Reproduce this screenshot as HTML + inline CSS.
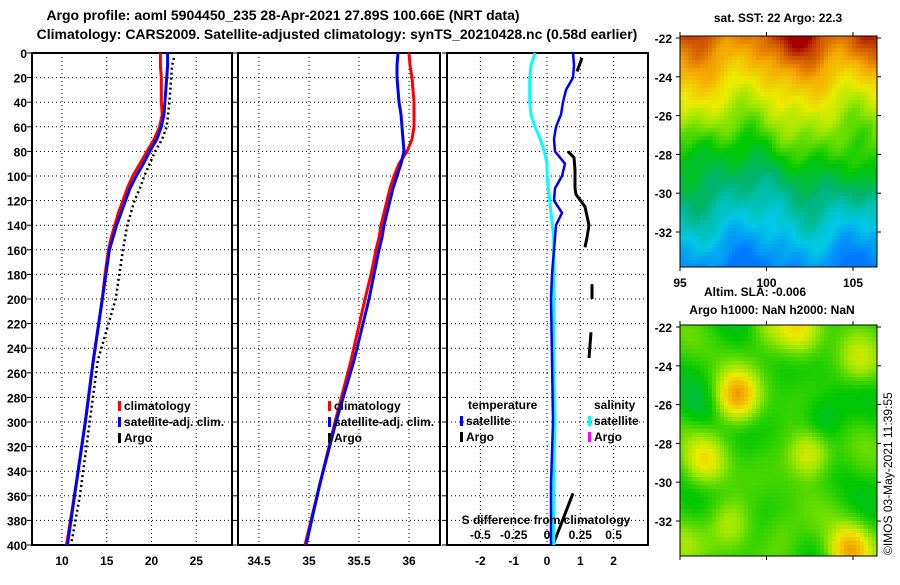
<!DOCTYPE html>
<html><head><meta charset="utf-8"><style>
body{margin:0;background:#fff;}
svg text{font-family:"Liberation Sans",sans-serif;font-weight:bold;font-size:12px;fill:#000;}
</style></head><body>
<svg id="c" width="900" height="580" xmlns="http://www.w3.org/2000/svg">
<text x="283" y="20" text-anchor="middle" style="font-size:14px">Argo profile: aoml 5904450_235 28-Apr-2021 27.89S 100.66E (NRT data)</text>
<text x="337" y="39" text-anchor="middle" style="font-size:14px">Climatology: CARS2009. Satellite-adjusted climatology: synTS_20210428.nc (0.58d earlier)</text>
<g id="p1"></g>
<g id="p2"></g>
<g id="p3"></g>
<g id="m1"></g>
<g id="m2"></g>
<text x="778" y="22" text-anchor="middle">sat. SST: 22 Argo: 22.3</text>
<text x="755" y="296" text-anchor="middle">Altim. SLA: -0.006</text>
<text x="772" y="314" text-anchor="middle">Argo h1000: NaN h2000: NaN</text>
<text transform="translate(892,555) rotate(-90)" style="font-weight:normal">©IMOS 03-May-2021 11:39:55</text>
</svg>
<script>
const depths=[0,10,20,30,40,50,60,70,80,90,100,110,120,130,140,150,160,180,200,250,300,350,400];
const tClim=[21.0,21.0,21.1,21.1,21.1,21.2,20.9,20.3,19.5,18.7,17.9,17.3,16.8,16.3,15.9,15.5,15.2,14.8,14.5,13.5,12.6,11.6,10.5];
const tSat=[21.8,21.8,21.7,21.6,21.5,21.4,21.1,20.6,19.8,19.1,18.3,17.6,17.1,16.6,16.1,15.7,15.3,14.9,14.5,13.5,12.6,11.6,10.6];
const sClim=[36.00,36.01,36.03,36.04,36.05,36.05,36.05,36.03,35.98,35.90,35.85,35.81,35.78,35.75,35.72,35.70,35.67,35.62,35.56,35.42,35.26,35.11,34.96];
const sSat=[35.89,35.88,35.88,35.89,35.90,35.92,35.93,35.94,35.95,35.92,35.88,35.84,35.81,35.78,35.75,35.73,35.70,35.65,35.60,35.45,35.27,35.11,34.97];
const tDiff=[0.78,0.81,0.78,0.57,0.48,0.42,0.27,0.21,0.24,0.54,0.45,0.24,0.21,0.45,0.27,0.24,0.21,0.15,0.12,0.15,0.18,0.12,0.12];
const sDiff=[-0.09,-0.12,-0.13,-0.13,-0.13,-0.12,-0.09,-0.05,-0.02,0.0,0.0,0.01,0.02,0.03,0.04,0.05,0.05,0.05,0.05,0.05,0.06,0.05,0.05];
const argoT=[[[4,22.5],[10,22.3],[20,22.2],[40,22.0],[60,21.7],[70,21.2],[80,20.4],[90,19.8],[100,19.2],[110,18.7],[120,18.1],[140,17.3],[160,16.8],[200,16.0],[250,14.0],[300,13.1],[360,12.0],[400,11.0]]];
const argoTD=[[[4,1.05],[15,0.9]],[[80,0.63],[85,0.81],[95,0.84],[110,0.84],[115,0.87],[125,1.14],[140,1.26],[150,1.2],[158,1.14]],[[188,1.35],[200,1.35]],[[227,1.32],[248,1.26]],[[358,0.78],[400,0.18]]];
const yTicks=[0,20,40,60,80,100,120,140,160,180,200,220,240,260,280,300,320,340,360,380,400];
const NS="http://www.w3.org/2000/svg";
function mk(par,tag,at){const e=document.createElementNS(NS,tag);for(const k in at)e.setAttribute(k,at[k]);par.appendChild(e);return e;}
const top0=53,bot=545;
const yS=d=>top0+d*(bot-top0)/400;
function panel(g,x0,x1,xScale,xt,xtl,xgrid){
  mk(g,'rect',{x:x0,y:top0,width:x1-x0,height:bot-top0,fill:'none',stroke:'#000','stroke-width':2});
  yTicks.forEach(d=>{const y=yS(d);
    if(d>0&&d<400){const l=mk(g,'line',{x1:x0,x2:x1,y1:y,y2:y,stroke:'#000','stroke-dasharray':'1 3'});}
    mk(g,'line',{x1:x0-5,x2:x0,y1:y,y2:y,stroke:'#000'});});
  xgrid.forEach(v=>{const x=xScale(v);const l=mk(g,'line',{x1:x,x2:x,y1:top0,y2:bot,stroke:'#000','stroke-dasharray':'1 3'});});
  xt.forEach((v,i)=>{const t=mk(g,'text',{x:xScale(v),y:565,'text-anchor':'middle'});t.textContent=xtl[i];});
}
function line(g,pts,xScale,col,w,name,dash){
  const d=pts.map((p,i)=>(i?'L':'M')+xScale(p[1]).toFixed(1)+','+yS(p[0]).toFixed(1)).join('');
  const p=mk(g,'path',{d:d,fill:'none',stroke:col,'stroke-width':w});
  if(dash)p.setAttribute('stroke-dasharray',dash);
  
  
}
const zip=(a)=>depths.map((d,i)=>[d,a[i]]);
const g1=document.getElementById('p1');
const x1s=v=>62+(v-10)*8.95;
panel(g1,32,232,x1s,[10,15,20,25],['10','15','20','25'],[10,15,20,25]);
yTicks.forEach(d=>{const t=mk(g1,'text',{x:27,y:yS(d)+5,'text-anchor':'end'});t.textContent=d;});
line(g1,argoT[0],x1s,'#000',2.5,'argo-temperature-line','2 3');
line(g1,zip(tClim),x1s,'#f00',3,'climatology-temperature-line');
line(g1,zip(tSat),x1s,'#00f',3,'satellite-temperature-line');
const g2=document.getElementById('p2');
const x2s=v=>309+(v-35)*100;
panel(g2,238,440,x2s,[34.5,35,35.5,36],['34.5','35','35.5','36'],[34.5,35,35.5,36]);
line(g2,zip(sClim),x2s,'#f00',3,'climatology-salinity-line');
line(g2,zip(sSat),x2s,'#00f',3,'satellite-salinity-line');
const g3=document.getElementById('p3');
const x3s=v=>547+v*33.3;
const x3ss=v=>547+v*133.2;
panel(g3,447,648,x3s,[-2,-1,0,1,2],['-2','-1','0','1','2'],[-2,-1,0,1,2]);
argoTD.forEach(s=>line(g3,s,x3s,'#000',3,'argo-temperature-diff-segment'));
line(g3,zip(sDiff),x3ss,'#0ff',3,'satellite-salinity-diff-line');
line(g3,zip(tDiff),x3s,'#00f',2.5,'satellite-temperature-diff-line');
[[-0.5,'-0.5'],[-0.25,'-0.25'],[0,'0'],[0.25,'0.25'],[0.5,'0.5']].forEach(a=>{const t=mk(g3,'text',{x:x3ss(a[0]),y:539,'text-anchor':'middle'});t.textContent=a[1];});
{const t=mk(g3,'text',{x:546,y:524,'text-anchor':'middle'});t.textContent='S difference from climatology';}
function leg(g,x,y,col,label){mk(g,'rect',{x:x,y:y-9,width:3,height:10,fill:col});const t=mk(g,'text',{x:x+6,y:y});t.textContent=label;}
leg(g1,118,410,'#f00','climatology');leg(g1,118,426,'#00f','satellite-adj. clim.');leg(g1,118,442,'#000','Argo');
leg(g2,328,410,'#f00','climatology');leg(g2,328,426,'#00f','satellite-adj. clim.');leg(g2,328,442,'#000','Argo');
{const t=mk(g3,'text',{x:468,y:409});t.textContent='temperature';}
{const t=mk(g3,'text',{x:594,y:409});t.textContent='salinity';}
leg(g3,460,425,'#00f','satellite');leg(g3,460,441,'#000','Argo');leg(g3,588,425,'#0ff','satellite');leg(g3,588,441,'#f0f','Argo');
const CM=[[0,[0,120,255]],[0.15,[0,200,230]],[0.3,[0,180,110]],[0.42,[0,200,0]],[0.55,[150,230,0]],[0.65,[235,235,0]],[0.78,[245,170,0]],[0.9,[210,90,0]],[1,[160,0,0]]];
function cmap(v){v=Math.max(0,Math.min(1,v));for(let k=1;k<CM.length;k++){if(v<=CM[k][0]){const a=CM[k-1],b=CM[k],t=(v-a[0])/(b[0]-a[0]);const c=a[1].map((x,i)=>Math.round(x+(b[1][i]-x)*t));return `rgb(${c[0]},${c[1]},${c[2]})`;}}return 'rgb(160,0,0)';}
function map(g,x0,y0,f){
  const W=197,H=231,c=4;
  for(let j=0;j<H;j+=c)for(let i=0;i<W;i+=c){mk(g,'rect',{x:x0+i,y:y0+j,width:Math.min(c,W-i),height:Math.min(c,H-j),fill:cmap(f(i/W,j/H))});}
  mk(g,'rect',{x:x0,y:y0,width:W,height:H,fill:'none',stroke:'#000'});
  [-22,-24,-26,-28,-30,-32].forEach(la=>{const y=y0+2+(-22-la)*19.4;mk(g,'line',{x1:x0-4,x2:x0,y1:y,y2:y,stroke:'#000'});mk(g,'line',{x1:x0+W,x2:x0+W+4,y1:y,y2:y,stroke:'#000'});const t=mk(g,'text',{x:x0-8,y:y+5,'text-anchor':'end'});t.textContent=la;});
  [95,100,105].forEach(lo=>{const x=x0+(lo-95)*17.3;mk(g,'line',{x1:x,x2:x,y1:y0+H,y2:y0+H+4,stroke:'#000'});mk(g,'line',{x1:x,x2:x,y1:y0-4,y2:y0,stroke:'#000'});});
}
const gs=(u,v,cx,cy,a,s)=>a*Math.exp(-((u-cx)**2+(v-cy)**2)/s);
const g4=document.getElementById('m1');
map(g4,680,36,(u,v)=>{let b=0.86-0.85*v+0.05*Math.sin(u*11+1)+0.025*Math.sin(u*23-v*9)+0.012*Math.cos(u*41+v*37);
 b+=gs(u,v,0.55,0.0,0.12,0.02)+gs(u,v,1.0,0.0,0.16,0.02)-gs(u,v,0.05,0.5,0.08,0.02)+gs(u,v,0.95,0.55,0.1,0.02)-gs(u,v,0.55,0.65,0.05,0.02);return b;});
[95,100,105].forEach(lo=>{const t=mk(g4,'text',{x:680+(lo-95)*17.3,y:287,'text-anchor':'middle'});t.textContent=lo;});
const g5=document.getElementById('m2');
map(g5,680,325,(u,v)=>{let b=0.45+0.03*Math.sin(u*14+1)*Math.cos(v*12)+0.03*Math.sin(u*8-v*15+2);const spots=[[0.28,0.3,0.33],[0.65,0.55,0.22],[0.85,0.97,0.32],[0.12,0.58,0.2],[0.6,0.02,0.2],[0.25,0.85,0.12],[0.9,0.15,0.14],[0.45,0.0,0.1],[0.5,0.9,0.08],[0.0,0.95,0.1]];spots.forEach(s=>{b+=gs(u,v,s[0],s[1],s[2],0.011);});b-=gs(u,v,0.72,0.4,0.1,0.012)+gs(u,v,0.1,0.35,0.06,0.01);return b;});
</script>
</body></html>
